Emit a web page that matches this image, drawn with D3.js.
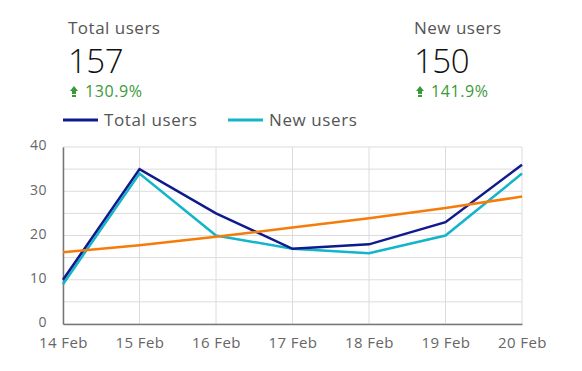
<!DOCTYPE html>
<html><head><meta charset="utf-8">
<script src="https://cdn.jsdelivr.net/npm/d3@7"></script>
<style>body{margin:0;background:#fff;} svg{display:block;font-family:"Open Sans","Noto Sans",sans-serif;}</style>
</head><body>
<script>
const dates = ["14 Feb","15 Feb","16 Feb","17 Feb","18 Feb","19 Feb","20 Feb"];
const totalUsers = [10,35,25,17,18,23,36];
const newUsers = [9,34,20,17,16,20,34];
const trend = [16.2,17.8,19.7,21.8,23.9,26.2,28.8];
const yTicks = [0,10,20,30,40];
const kpiLabels = ["Total users","New users"];
const kpiValues = ["157","150"];
const kpiChanges = ["130.9%","141.9%"];

const W=582,H=371;
const svg=d3.select("body").append("svg").attr("width",W).attr("height",H);
const m={l:63,r:522,t:147,b:324};
const x=d3.scalePoint().domain(dates).range([m.l,m.r]);
const y=d3.scaleLinear().domain([0,40]).range([m.b,m.t]);

// KPIs
const kx=[69,415];
kpiLabels.forEach((lab,i)=>{
  const g=svg.append("g");
  g.append("text").attr("x",kx[i]-1).attr("y",34).attr("font-size",17).attr("letter-spacing",0.5).attr("fill","#555").text(lab);
  g.append("text").attr("x",kx[i]-1).attr("y",73).attr("font-size",33).attr("font-weight",300).attr("letter-spacing",-0.5).attr("fill","#111").text(kpiValues[i]);
  const ax=kx[i]+5;
  g.append("path").attr("d",`M${ax-4},${91} L${ax},${86} L${ax+4},${91} L${ax+2},${91} L${ax+2},${94} L${ax-2},${94} L${ax-2},${91} Z M${ax-2},${95} h4 v2 h-4 Z`).attr("fill","#3a9a3a");
  g.append("text").attr("x",kx[i]+16).attr("y",97).attr("font-size",16).attr("letter-spacing",0.6).attr("fill","#3a9a3a").text(kpiChanges[i]);
});

// legend
const legend=[{n:"Total users",c:"#0f1a8c",x:63},{n:"New users",c:"#12b5c9",x:228}];
legend.forEach(d=>{
  svg.append("line").attr("x1",d.x).attr("x2",d.x+35).attr("y1",120).attr("y2",120).attr("stroke",d.c).attr("stroke-width",3);
  svg.append("text").attr("x",d.x+41).attr("y",126).attr("font-size",17).attr("letter-spacing",0.6).attr("fill","#555").text(d.n);
});

// grid
const minor=d3.range(0,41,5);
svg.append("g").selectAll("line").data(minor).join("line")
  .attr("x1",m.l).attr("x2",m.r).attr("y1",d=>y(d)).attr("y2",d=>y(d)).attr("stroke","#dcdcdc").attr("stroke-width",1);
svg.append("g").selectAll("line").data(dates).join("line")
  .attr("x1",d=>x(d)).attr("x2",d=>x(d)).attr("y1",m.t).attr("y2",m.b).attr("stroke","#dcdcdc").attr("stroke-width",1);

// axes
const yAxis=svg.append("g").attr("transform",`translate(${m.l},0)`).call(d3.axisLeft(y).tickValues(yTicks).tickSize(0).tickPadding(16));
yAxis.select(".domain").attr("stroke","#777").attr("stroke-width",1.5);
yAxis.selectAll("text").attr("font-size",14).attr("letter-spacing",0.5).attr("fill","#666").attr("font-family","Open Sans").attr("dy","0.2em");
const xAxis=svg.append("g").attr("transform",`translate(0,${m.b})`).call(d3.axisBottom(x).tickSize(0).tickPadding(13));
xAxis.select(".domain").attr("stroke","#777").attr("stroke-width",1.5);
xAxis.selectAll("text").attr("font-size",15).attr("letter-spacing",0.4).attr("fill","#666").attr("font-family","Open Sans");

// lines
const line=d3.line().x((d,i)=>x(dates[i])).y(d=>y(d));
svg.append("path").datum(newUsers).attr("d",line).attr("fill","none").attr("stroke","#12b5c9").attr("stroke-width",2.5);
svg.append("path").datum(totalUsers).attr("d",line).attr("fill","none").attr("stroke","#0f1a8c").attr("stroke-width",2.5);
svg.append("path").datum(trend).attr("d",line).attr("fill","none").attr("stroke","#f57c0a").attr("stroke-width",2.5);
</script>
</body></html>
